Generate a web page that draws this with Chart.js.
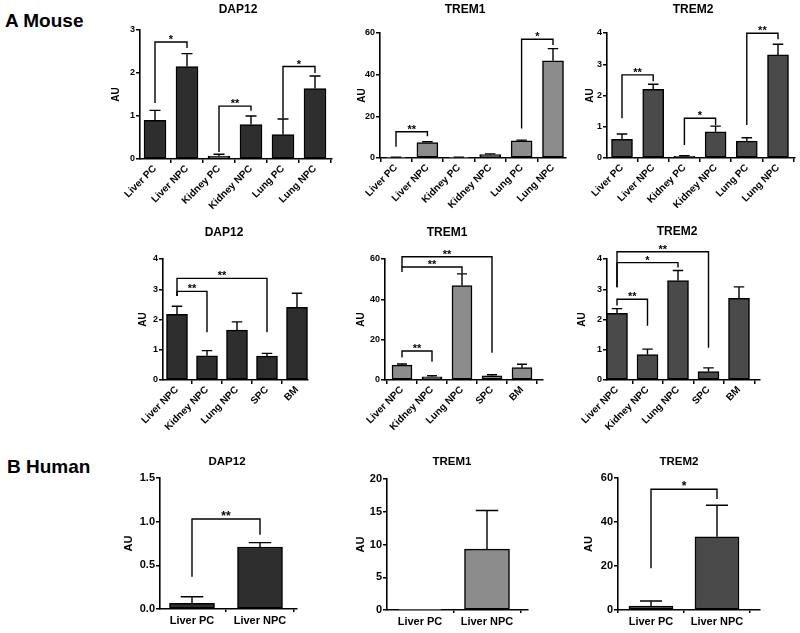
<!DOCTYPE html>
<html><head><meta charset="utf-8">
<script src="https://cdn.jsdelivr.net/npm/chart.js@4.4.1/dist/chart.umd.min.js"></script>
<style>
html,body{margin:0;padding:0;background:#fff;width:800px;height:633px;overflow:hidden;position:relative}
canvas{position:absolute}
.lab{position:absolute;font:bold 19px "Liberation Sans",Arial,sans-serif;line-height:19px;color:#000;white-space:nowrap}
</style></head><body>
<div class="lab" style="left:5px;top:11px">A Mouse</div>
<div class="lab" style="left:7px;top:457px">B Human</div>
<script>
// ---------------- DATA ----------------
const mouseOrgans = ['Liver PC', 'Liver NPC', 'Kidney PC', 'Kidney NPC', 'Lung PC', 'Lung NPC'];
const mouseCells  = ['Liver NPC', 'Kidney NPC', 'Lung NPC', 'SPC', 'BM'];
const humanCells  = ['Liver PC', 'Liver NPC'];

const organDap12    = [0.90, 2.15, 0.07, 0.80, 0.57, 1.64];
const organDap12Sem = [0.23, 0.30, 0.04, 0.20, 0.36, 0.29];
const organTrem1    = [0.3, 7.4, 0.3, 1.6, 8.2, 46.7];
const organTrem1Sem = [0.1, 0.4, 0.1, 0.4, 0.4, 5.8];
const organTrem2    = [0.60, 2.20, 0.05, 0.84, 0.54, 3.30];
const organTrem2Sem = [0.17, 0.16, 0.02, 0.18, 0.11, 0.34];

const cellDap12    = [2.17, 0.80, 1.65, 0.79, 2.40];
const cellDap12Sem = [0.27, 0.17, 0.27, 0.09, 0.47];
const cellTrem1    = [7.4, 1.6, 46.8, 2.1, 6.1];
const cellTrem1Sem = [0.5, 0.5, 5.8, 0.5, 1.7];
const cellTrem2    = [2.20, 0.84, 3.29, 0.28, 2.70];
const cellTrem2Sem = [0.16, 0.18, 0.33, 0.12, 0.38];

const humanDap12    = [0.065, 0.71];
const humanDap12Sem = [0.075, 0.05];
const humanTrem1    = [0.1, 9.3];
const humanTrem1Sem = [0, 5.9];
const humanTrem2    = [1.8, 33.3];
const humanTrem2Sem = [2.3, 14.3];

// significance brackets: [fromIndex, toIndex, label, bracketHeight, leftLegEnd, rightLegEnd] (AU)
const organDap12Sig = [[0, 1, '*', 2.72, 1.30, 2.58], [2, 3, '**', 1.23, 0.16, 1.12], [4, 5, '*', 2.15, 0.95, 2.00]];
const organTrem1Sig = [[0, 1, '**', 12.6, 5.4, 10.5], [4, 5, '*', 57.0, 14.2, 54.2]];
const organTrem2Sig = [[0, 1, '**', 2.66, 1.27, 2.46], [2, 3, '*', 1.27, 0.42, 1.06], [4, 5, '**', 3.99, 1.06, 3.80]];
const cellDap12Sig  = [[0, 1, '**', 2.93, 2.78, 1.58], [0, 3, '**', 3.36, 2.78, 1.58]];
const cellTrem1Sig  = [[0, 1, '**', 14.4, 11.2, 9.1], [0, 2, '**', 56.0, 53.5, 52.9], [0, 3, '**', 61.1, 56.0, 13.5]];
const cellTrem2Sig  = [[0, 1, '**', 2.67, 2.46, 1.79], [0, 2, '*', 3.88, 3.07, 3.72], [0, 3, '**', 4.24, 3.07, 1.07]];
const humanDap12Sig = [[0, 1, '**', 1.03, 0.37, 0.85]];
const humanTrem1Sig = [];
const humanTrem2Sig = [[0, 1, '*', 54.9, 19.0, 50.5]];

// y-axis tick values
const ticks0to3   = [0, 1, 2, 3];
const ticks0to4   = [0, 1, 2, 3, 4];
const ticks0to60  = [0, 20, 40, 60];
const ticks0to1_5 = [0, 0.5, 1.0, 1.5];
const ticks0to20  = [0, 5, 10, 15, 20];

// ---------------- STYLE / LAYOUT ----------------
const FONT = '"Liberation Sans", Arial, sans-serif';
const cDap12 = '#2e2e2e', cTrem1 = '#8c8c8c', cTrem2 = '#4a4a4a';

const panels = [
  {title:'DAP12', labels:mouseOrgans, values:organDap12, sem:organDap12Sem, sig:organDap12Sig, yTicks:ticks0to3, color:cDap12,
   axisX:140, xEnd:332, yTop:30, y0:159, c0:155, c1:315, barW:22, tx:238, ty:10, au:24, rot:45},
  {title:'TREM1', labels:mouseOrgans, values:organTrem1, sem:organTrem1Sem, sig:organTrem1Sig, yTicks:ticks0to60, color:cTrem1,
   axisX:380, xEnd:566, yTop:33, y0:158, c0:396, c1:553, barW:21, tx:465, ty:10, au:18, rot:45},
  {title:'TREM2', labels:mouseOrgans, values:organTrem2, sem:organTrem2Sem, sig:organTrem2Sig, yTicks:ticks0to4, color:cTrem2,
   axisX:607, xEnd:795, yTop:33, y0:158, c0:622, c1:778, barW:21, tx:693, ty:10, au:17, rot:45},
  {title:'DAP12', labels:mouseCells, values:cellDap12, sem:cellDap12Sem, sig:cellDap12Sig, yTicks:ticks0to4, color:cDap12,
   axisX:163, xEnd:308, yTop:259, y0:380, c0:177, c1:297, barW:21, tx:224, ty:233, au:20, rot:45},
  {title:'TREM1', labels:mouseCells, values:cellTrem1, sem:cellTrem1Sem, sig:cellTrem1Sig, yTicks:ticks0to60, color:cTrem1,
   axisX:385, xEnd:543, yTop:259, y0:380, c0:402, c1:522, barW:20, tx:447, ty:233, au:24, rot:45},
  {title:'TREM2', labels:mouseCells, values:cellTrem2, sem:cellTrem2Sem, sig:cellTrem2Sig, yTicks:ticks0to4, color:cTrem2,
   axisX:607, xEnd:760, yTop:259, y0:380, c0:617, c1:739, barW:21, tx:677, ty:232, au:25, rot:45},
  {title:'DAP12', labels:humanCells, values:humanDap12, sem:humanDap12Sem, sig:humanDap12Sig, yTicks:ticks0to1_5, dec:1, color:cDap12,
   axisX:160, xEnd:297, yTop:478, y0:609, c0:192, c1:260, barW:45, tx:227, ty:462, au:31, rot:0, big:true},
  {title:'TREM1', labels:humanCells, values:humanTrem1, sem:humanTrem1Sem, sig:humanTrem1Sig, yTicks:ticks0to20, color:cTrem1,
   axisX:387, xEnd:528, yTop:479, y0:610, c0:420, c1:487, barW:45, tx:452, ty:462, au:26, rot:0, big:true},
  {title:'TREM2', labels:humanCells, values:humanTrem2, sem:humanTrem2Sem, sig:humanTrem2Sig, yTicks:ticks0to60, color:cTrem2,
   axisX:618, xEnd:760, yTop:478, y0:610, c0:651, c1:717, barW:44, tx:679, ty:462, au:29, rot:0, big:true}
];

function build(p) {
  const n = p.labels.length;
  const sp = (p.c1 - p.c0) / (n - 1);
  const xmin = -(p.c0 - p.axisX) / sp;
  const xmax = (n - 1) + (p.xEnd - p.c1) / sp;
  const big = !!p.big;
  const auSize = big ? 11 : 10;
  const Wy = Math.round(p.au + auSize * 1.2 / 2);
  const top = p.ty - 14;
  const Hx = big ? 26 : 64;
  const padR = 14;
  const left = p.axisX - Wy;
  const W = Wy + (p.xEnd - p.axisX) + padR;
  const H = (p.y0 - top) + Hx;

  const cv = document.createElement('canvas');
  cv.width = W; cv.height = H;
  cv.style.left = left + 'px'; cv.style.top = top + 'px';
  cv.style.width = W + 'px'; cv.style.height = H + 'px';
  document.body.appendChild(cv);

  const extras = {
    id: 'extras',
    afterDraw(chart) {
      const ctx = chart.ctx, xs = chart.scales.x, ys = chart.scales.y;
      ctx.save();
      // title
      ctx.fillStyle = '#000';
      ctx.font = 'bold ' + (big ? 11.5 : 12) + 'px ' + FONT;
      ctx.textAlign = 'center'; ctx.textBaseline = 'middle';
      ctx.fillText(p.title, p.tx - left, p.ty - top);
      // error bars (upper only)
      ctx.strokeStyle = '#000'; ctx.lineWidth = 1.4; ctx.lineCap = 'butt';
      p.values.forEach((v, i) => {
        const s = p.sem[i];
        if (!s) return;
        const x = xs.getPixelForValue(i);
        const yb = ys.getPixelForValue(v), ye = ys.getPixelForValue(v + s);
        const hw = p.barW * 0.25;
        ctx.beginPath();
        ctx.moveTo(x, yb); ctx.lineTo(x, ye);
        ctx.moveTo(x - hw, ye); ctx.lineTo(x + hw, ye);
        ctx.stroke();
      });
      // significance brackets
      ctx.font = 'bold ' + (big ? 12 : 11) + 'px ' + FONT;
      ctx.textBaseline = 'alphabetic';
      p.sig.forEach(([a, b, lab, h, l, r]) => {
        const x1 = xs.getPixelForValue(a), x2 = xs.getPixelForValue(b);
        const yh = ys.getPixelForValue(h);
        ctx.beginPath();
        ctx.moveTo(x1, ys.getPixelForValue(l));
        ctx.lineTo(x1, yh); ctx.lineTo(x2, yh);
        ctx.lineTo(x2, ys.getPixelForValue(r));
        ctx.stroke();
        ctx.fillText(lab, (x1 + x2) / 2, yh + 1);
      });
      ctx.restore();
    }
  };

  new Chart(cv, {
    type: 'bar',
    data: {
      datasets: [{
        data: p.values.map((v, i) => ({x: i, y: v})),
        backgroundColor: p.color, borderColor: '#000', borderWidth: 1.5,
        borderSkipped: false, barThickness: p.barW
      }]
    },
    options: {
      responsive: false, animation: false, devicePixelRatio: 1,
      layout: {padding: {left: 0, right: padR, top: p.yTop - top, bottom: 0}},
      plugins: {legend: {display: false}, tooltip: {enabled: false}, title: {display: false}},
      scales: {
        x: {
          type: 'linear', min: xmin, max: xmax, offset: false,
          afterBuildTicks: s => { s.ticks = p.labels.map((_, i) => ({value: i})); },
          ticks: {autoSkip: false, minRotation: p.rot, maxRotation: p.rot, color: '#000',
                  font: {family: FONT, size: big ? 11 : 10, weight: 'bold'}, padding: big ? 2 : 0,
                  callback: v => (p.labels[v] !== undefined ? p.labels[v] : '')},
          grid: {drawOnChartArea: false, drawTicks: true, tickLength: big ? 3 : 4, color: '#000', lineWidth: 1.5},
          border: {display: true, color: '#000', width: 1.6},
          afterFit: s => { s.height = Hx; s.paddingLeft = 0; s.paddingRight = 0; }
        },
        y: {
          min: 0, max: p.yTicks[p.yTicks.length - 1],
          afterBuildTicks: s => { s.ticks = p.yTicks.map(v => ({value: v})); },
          ticks: {color: '#000', font: {family: FONT, size: big ? 11 : 9, weight: 'bold'}, padding: 1,
                  callback: v => Number(v).toFixed(p.dec || 0)},
          grid: {drawOnChartArea: false, drawTicks: true, tickLength: 4, color: '#000', lineWidth: 1.5},
          border: {display: true, color: '#000', width: 1.6},
          title: {display: true, text: 'AU', color: '#000', padding: 0,
                  font: {family: FONT, size: auSize, weight: 'bold'}},
          afterFit: s => { s.width = Wy; s.paddingTop = 0; s.paddingBottom = 0; }
        }
      }
    },
    plugins: [extras]
  });
}

panels.forEach(build);
</script>
</body></html>
